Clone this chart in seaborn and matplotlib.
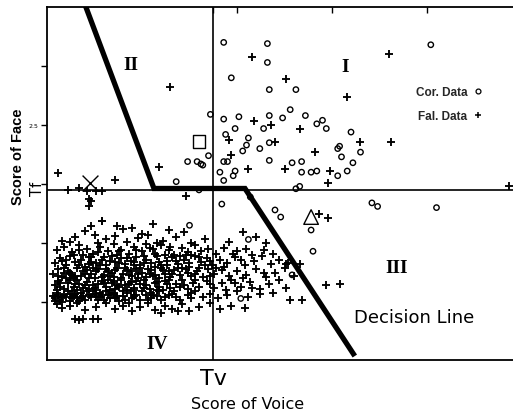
import matplotlib
matplotlib.use("Agg")
import matplotlib.pyplot as plt
from matplotlib.lines import Line2D
from matplotlib.transforms import blended_transform_factory
import numpy as np
import pandas as pd
import seaborn as sns

sns.set_theme(style="white")
plt.rcParams['font.family'] = ['DejaVu Sans']

# ---------------- data ----------------
# thresholds
tv = 1.874
tf = 1.949

# decision line vertices
decision_x = [1.20, 1.563, 2.042, 2.62]
decision_y = [3.52, 1.962, 1.962, 0.542]

# correct data (hollow circles)
cor_points = [
    (1.93, 3.20), (2.16, 3.19), (2.16, 3.03), (1.97, 2.90), (2.17, 2.80), (2.31, 2.80),
    (1.86, 2.59), (1.93, 2.55), (2.01, 2.57), (2.17, 2.58), (2.24, 2.56), (2.28, 2.63),
    (2.36, 2.58), (2.45, 2.54), (2.42, 2.51), (2.47, 2.47), (1.99, 2.47), (2.14, 2.47),
    (1.94, 2.42), (2.06, 2.39), (2.05, 2.33), (2.03, 2.28), (2.12, 2.30), (2.17, 2.35),
    (1.85, 2.24), (2.60, 2.44), (2.65, 2.27), (2.54, 2.32), (2.53, 2.30), (2.55, 2.23),
    (2.61, 2.18), (2.58, 2.11), (2.53, 2.07), (2.42, 2.11), (2.39, 2.10), (2.34, 2.10),
    (2.34, 2.19), (2.29, 2.18), (2.17, 2.20), (1.93, 2.19), (1.95, 2.19), (1.91, 2.10),
    (1.93, 2.03), (1.98, 2.07), (1.99, 2.11), (2.31, 1.96), (2.33, 1.98), (1.81, 2.17),
    (3.02, 3.18),
    (1.74, 2.19), (1.79, 2.19), (1.82, 2.16), (1.68, 2.02), (1.80, 1.95),
    (1.92, 1.83), (2.20, 1.78), (2.23, 1.72), (2.39, 1.61), (2.40, 1.43), (2.06, 1.53),
    (2.29, 1.23), (2.02, 1.03), (2.07, 1.89), (2.71, 1.84), (2.74, 1.81), (3.05, 1.80),
    (1.75, 1.65),
]

# false data scattered outside the main cluster
fal_scattered = [
    (2.08, 3.08), (2.26, 2.89), (2.58, 2.74), (2.80, 3.10), (2.09, 2.53), (2.18, 2.50),
    (2.33, 2.47), (1.96, 2.37), (2.20, 2.36), (2.41, 2.27), (2.65, 2.36), (2.81, 2.36),
    (1.97, 2.25), (2.06, 2.13), (2.25, 2.13), (2.49, 2.11), (2.48, 2.01), (3.43, 1.98),
    (1.65, 2.82), (1.06, 2.09), (1.36, 2.03), (1.11, 1.95), (1.17, 1.97), (1.21, 1.94),
    (1.26, 1.94), (1.29, 1.94), (1.73, 1.90), (1.59, 2.14),
    (1.22, 1.87), (1.23, 1.86), (1.22, 1.81), (1.29, 1.69), (1.23, 1.64), (1.37, 1.64),
    (2.48, 1.71), (2.43, 1.75), (2.03, 1.59), (2.05, 1.45), (1.96, 1.51), (2.47, 1.14),
    (2.54, 1.15), (2.28, 1.02), (2.34, 1.02), (2.26, 1.32), (2.33, 1.32),
]

# false data: dense cluster in region IV
fal_cluster = [
    (1.29, 1.69), (1.40, 1.62), (1.56, 1.66), (1.64, 1.61), (1.20, 1.60), (1.50, 1.58),
    (1.72, 1.59), (1.45, 1.63),
    (1.08, 1.52), (1.15, 1.55), (1.25, 1.57), (1.31, 1.53), (1.36, 1.56), (1.42, 1.51),
    (1.48, 1.54), (1.53, 1.57), (1.61, 1.52), (1.68, 1.55), (1.76, 1.50), (1.83, 1.53),
    (1.12, 1.51), (1.27, 1.50), (1.58, 1.50), (2.10, 1.55), (2.15, 1.50),
    (1.05, 1.44), (1.09, 1.47), (1.13, 1.42), (1.17, 1.48), (1.21, 1.45), (1.24, 1.41),
    (1.28, 1.47), (1.32, 1.43), (1.35, 1.49), (1.39, 1.44), (1.43, 1.41), (1.46, 1.47),
    (1.50, 1.43), (1.54, 1.46), (1.57, 1.41), (1.60, 1.48), (1.64, 1.44), (1.67, 1.40),
    (1.71, 1.46), (1.74, 1.42), (1.78, 1.48), (1.81, 1.43), (1.85, 1.45), (1.89, 1.41),
    (1.93, 1.46), (2.00, 1.43), (2.08, 1.40), (2.14, 1.44), (2.19, 1.41), (1.19, 1.40),
    (1.37, 1.40), (1.52, 1.49), (1.76, 1.40),
    (1.04, 1.33), (1.07, 1.37), (1.10, 1.31), (1.12, 1.39), (1.15, 1.34), (1.18, 1.36),
    (1.20, 1.30), (1.23, 1.38), (1.26, 1.33), (1.29, 1.36), (1.31, 1.31), (1.34, 1.39),
    (1.36, 1.34), (1.39, 1.37), (1.41, 1.32), (1.44, 1.35), (1.47, 1.38), (1.49, 1.31),
    (1.52, 1.36), (1.55, 1.33), (1.58, 1.39), (1.60, 1.31), (1.63, 1.35), (1.66, 1.38),
    (1.69, 1.32), (1.72, 1.36), (1.75, 1.30), (1.78, 1.39), (1.81, 1.34), (1.84, 1.37),
    (1.87, 1.31), (1.91, 1.36), (1.95, 1.33), (1.99, 1.38), (2.04, 1.31), (2.09, 1.35),
    (2.13, 1.39), (2.18, 1.32), (2.22, 1.36), (2.27, 1.33), (1.08, 1.35), (1.22, 1.32),
    (1.33, 1.35), (1.46, 1.34), (1.57, 1.30), (1.70, 1.39), (1.86, 1.35),
    (1.03, 1.24), (1.06, 1.28), (1.08, 1.21), (1.11, 1.26), (1.13, 1.23), (1.16, 1.29),
    (1.18, 1.22), (1.21, 1.27), (1.23, 1.24), (1.25, 1.20), (1.27, 1.28), (1.30, 1.23),
    (1.32, 1.26), (1.35, 1.21), (1.37, 1.29), (1.40, 1.24), (1.42, 1.27), (1.45, 1.22),
    (1.47, 1.28), (1.50, 1.25), (1.52, 1.21), (1.55, 1.27), (1.57, 1.23), (1.60, 1.29),
    (1.62, 1.24), (1.65, 1.21), (1.67, 1.27), (1.70, 1.23), (1.73, 1.28), (1.76, 1.22),
    (1.79, 1.26), (1.82, 1.21), (1.85, 1.28), (1.88, 1.24), (1.92, 1.27), (1.96, 1.22),
    (2.00, 1.26), (2.05, 1.23), (2.10, 1.28), (2.15, 1.21), (2.20, 1.25), (2.25, 1.29),
    (2.30, 1.22), (1.09, 1.25), (1.14, 1.20), (1.19, 1.26), (1.24, 1.29), (1.29, 1.21),
    (1.34, 1.25), (1.39, 1.20), (1.44, 1.26), (1.49, 1.29), (1.54, 1.24), (1.59, 1.20),
    (1.64, 1.26), (1.69, 1.29), (1.74, 1.25), (1.80, 1.29), (1.86, 1.22),
    (1.04, 1.14), (1.06, 1.18), (1.09, 1.11), (1.11, 1.16), (1.14, 1.13), (1.16, 1.19),
    (1.19, 1.12), (1.21, 1.17), (1.24, 1.14), (1.26, 1.10), (1.29, 1.18), (1.31, 1.13),
    (1.34, 1.16), (1.36, 1.11), (1.39, 1.19), (1.41, 1.14), (1.44, 1.17), (1.46, 1.12),
    (1.49, 1.15), (1.51, 1.19), (1.54, 1.11), (1.57, 1.16), (1.59, 1.13), (1.62, 1.18),
    (1.65, 1.12), (1.68, 1.15), (1.71, 1.19), (1.74, 1.11), (1.77, 1.16), (1.80, 1.13),
    (1.84, 1.18), (1.88, 1.12), (1.92, 1.16), (1.97, 1.19), (2.02, 1.13), (2.07, 1.17),
    (2.12, 1.11), (2.17, 1.15), (2.22, 1.19), (2.26, 1.12), (1.07, 1.13), (1.12, 1.19),
    (1.17, 1.15), (1.22, 1.11), (1.27, 1.15), (1.32, 1.19), (1.37, 1.14), (1.42, 1.10),
    (1.47, 1.18), (1.52, 1.14), (1.58, 1.10), (1.63, 1.15), (1.70, 1.13), (1.78, 1.19),
    (1.86, 1.15),
    (1.03, 1.05), (1.05, 1.08), (1.07, 1.02), (1.09, 1.06), (1.11, 1.09), (1.13, 1.03),
    (1.15, 1.07), (1.17, 1.01), (1.19, 1.05), (1.21, 1.09), (1.23, 1.04), (1.25, 1.07),
    (1.27, 1.02), (1.29, 1.06), (1.31, 1.09), (1.33, 1.03), (1.35, 1.07), (1.38, 1.01),
    (1.40, 1.05), (1.42, 1.08), (1.45, 1.03), (1.47, 1.06), (1.50, 1.09), (1.53, 1.02),
    (1.56, 1.06), (1.59, 1.09), (1.62, 1.04), (1.66, 1.07), (1.70, 1.02), (1.74, 1.06),
    (1.78, 1.09), (1.82, 1.04), (1.86, 1.07), (1.90, 1.03), (1.95, 1.06), (2.00, 1.09),
    (2.06, 1.04), (2.12, 1.07), (1.04, 1.01), (1.08, 1.04), (1.12, 1.07), (1.16, 1.04),
    (1.20, 1.02), (1.24, 1.09), (1.28, 1.04), (1.32, 1.06), (1.36, 1.03), (1.44, 1.09),
    (1.52, 1.06), (1.60, 1.02), (1.68, 1.04), (1.76, 1.03),
    (1.05, 0.98), (1.08, 0.95), (1.12, 0.97), (1.20, 0.93), (1.26, 0.96), (1.31, 0.99),
    (1.36, 0.94), (1.40, 0.97), (1.45, 0.92), (1.49, 0.96), (1.53, 0.99), (1.57, 0.93),
    (1.62, 0.97), (1.66, 0.94), (1.71, 0.98), (1.75, 0.92), (1.80, 0.96), (1.86, 0.99),
    (1.91, 0.94), (1.97, 0.97), (2.04, 0.95), (1.16, 0.99), (1.43, 0.99), (1.60, 0.91),
    (1.69, 0.92),
    (1.15, 0.86), (1.17, 0.85), (1.19, 0.86), (1.24, 0.86), (1.27, 0.86),
    (1.05, 1.10), (1.07, 1.16), (1.10, 1.20), (1.13, 1.09), (1.15, 1.15), (1.18, 1.08),
    (1.20, 1.14), (1.22, 1.20), (1.25, 1.12), (1.28, 1.08), (1.30, 1.16), (1.33, 1.10),
    (1.35, 1.18), (1.38, 1.13), (1.40, 1.09), (1.43, 1.15), (1.46, 1.10), (1.48, 1.20),
    (1.51, 1.12), (1.55, 1.08), (1.58, 1.17), (1.61, 1.10), (1.64, 1.19), (1.67, 1.09),
    (1.72, 1.14), (1.76, 1.08),
    (1.06, 1.22), (1.09, 1.29), (1.12, 1.25), (1.15, 1.22), (1.17, 1.31), (1.20, 1.24),
    (1.23, 1.34), (1.26, 1.26), (1.28, 1.31), (1.31, 1.28), (1.33, 1.22), (1.36, 1.27),
    (1.38, 1.33), (1.41, 1.29), (1.43, 1.23), (1.46, 1.31), (1.48, 1.24), (1.51, 1.33),
    (1.53, 1.28), (1.56, 1.22), (1.59, 1.34), (1.61, 1.27), (1.63, 1.31), (1.66, 1.24),
    (1.68, 1.35), (1.71, 1.29), (1.75, 1.33), (1.78, 1.24), (1.83, 1.31), (1.89, 1.29),
    (1.04, 1.03), (1.06, 1.06), (1.08, 1.00), (1.10, 1.04), (1.12, 1.01), (1.14, 1.05),
    (1.16, 1.10), (1.18, 1.03), (1.22, 1.06), (1.26, 1.05), (1.30, 1.02), (1.34, 1.08),
    (1.37, 1.05), (1.41, 1.02), (1.46, 1.05), (1.49, 1.02), (1.55, 1.03), (1.58, 1.05),
    (1.64, 1.06),
    (1.10, 1.36), (1.14, 1.40), (1.17, 1.44), (1.22, 1.38), (1.27, 1.42), (1.30, 1.38),
    (1.38, 1.43), (1.42, 1.37), (1.47, 1.44), (1.51, 1.39), (1.56, 1.45), (1.62, 1.40),
    (1.65, 1.47), (1.73, 1.40), (1.80, 1.38),
    (1.94, 1.10), (1.99, 1.16), (2.03, 1.20), (2.08, 1.12), (2.14, 1.25), (2.19, 1.08),
    (1.93, 1.30), (1.98, 1.41), (2.02, 1.36),
]

# specially marked samples
square_pt = (1.80, 2.36)
cross_pt = (1.226, 2.01)
triangle_pt = (2.39, 1.72)

region_labels = ["I", "II", "III", "IV"]
region_pos = [(2.57, 3.00), (1.44, 3.01), (2.84, 1.29), (1.58, 0.65)]

cor_df = pd.DataFrame(cor_points, columns=["voice", "face"])
fal_df = pd.DataFrame(fal_cluster + fal_scattered, columns=["voice", "face"])

# ---------------- figure ----------------
fig = plt.figure(figsize=(5.13, 4.14), dpi=100)
ax = fig.add_axes([47 / 513, 53 / 414, 466 / 513, 353 / 414])
ax.set_facecolor("white")

ax.axvline(tv, color="black", lw=1.2, zorder=2)
ax.axhline(tf, color="black", lw=1.2, zorder=2)

sns.lineplot(x=decision_x, y=decision_y, sort=False, estimator=None,
             color="black", lw=3.8, ax=ax, zorder=4,
             solid_capstyle="butt", solid_joinstyle="miter")

sns.scatterplot(data=fal_df, x="voice", y="face", marker="+", s=28,
                color="black", linewidth=1.35, ax=ax, legend=False, zorder=3)
sns.scatterplot(data=cor_df, x="voice", y="face", marker="o", s=15,
                color="black", facecolor="none", edgecolor="black",
                linewidth=1.0, ax=ax, legend=False, zorder=3)

sns.scatterplot(x=[square_pt[0]], y=[square_pt[1]], marker="s", s=80,
                color="black", facecolor="none", edgecolor="black",
                linewidth=1.0, ax=ax, legend=False, zorder=5)
sns.scatterplot(x=[cross_pt[0]], y=[cross_pt[1]], marker="x", s=130,
                color="black", linewidth=1.0, ax=ax, legend=False, zorder=5)
sns.scatterplot(x=[triangle_pt[0]], y=[triangle_pt[1]], marker="^", s=110,
                color="black", facecolor="none", edgecolor="black",
                linewidth=1.0, ax=ax, legend=False, zorder=5)

for lab, (px, py) in zip(region_labels, region_pos):
    ax.text(px, py, lab, family="Liberation Serif", fontweight="bold",
            fontsize=14, ha="center", va="center", color="black")

ax.text(2.93, 0.87, "Decision Line", fontsize=13, ha="center", va="center",
        color="black")

ax.set_xlim(1.0, 1.0 + 466 / 190)
ax.set_ylim(2 + (185 - 361) / 118, 3.5)

for side in ["left", "bottom", "top"]:
    ax.spines[side].set_visible(True)
    ax.spines[side].set_color("black")
    ax.spines[side].set_linewidth(1.3)
ax.spines["right"].set_visible(False)

ax.set_xticks([tv, 2.0, 2.5, 3.0], ["Tv", "", "", ""])
ax.set_yticks([1.0, 1.5, 2.0, 2.5, 3.0], ["", "", "", "2.5", ""])
ax.tick_params(axis="x", direction="in", length=4, width=1, top=True,
               labeltop=False, pad=6, colors="black")
ax.tick_params(axis="y", direction="out", length=4, width=1, left=True,
               labelsize=4.5, pad=2, colors="black")
ax.get_xticklabels()[0].set_fontsize(16)

ax.set_xlabel("Score of Voice", fontsize=11.5, color="black")
ax.xaxis.set_label_coords(0.431, -0.103)
ax.set_ylabel("Score of Face", fontsize=10.5, fontweight="bold",
              family="Liberation Sans", color="black")
ax.yaxis.set_label_coords(-0.047, 0.58)

trans = blended_transform_factory(ax.transAxes, ax.transData)
ax.text(-0.021, 1.965, "Tf", transform=trans, rotation=90, fontsize=10.5,
        ha="center", va="center", color="black")

handles = [
    Line2D([], [], marker="o", ls="", mfc="none", mec="black", ms=3.5, mew=0.9),
    Line2D([], [], marker="+", ls="", color="black", ms=4, mew=1.1),
]
ax.legend(handles, ["Cor. Data", "Fal. Data"], loc="upper right",
          bbox_to_anchor=(0.935, 0.775), frameon=False, markerfirst=False,
          borderpad=0, borderaxespad=0, handlelength=0.8, handletextpad=0.5,
          labelspacing=0.95,
          prop={"family": "Liberation Sans", "size": 8.5, "weight": "bold"})

fig.savefig("out.png", dpi=100)
